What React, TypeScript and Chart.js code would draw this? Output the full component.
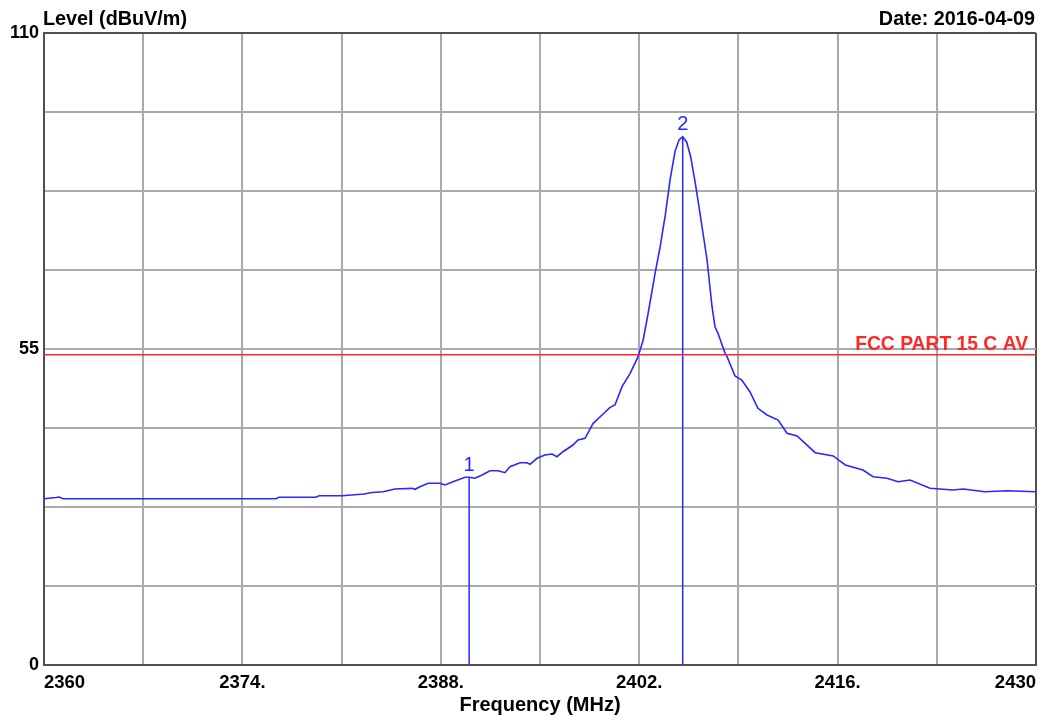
import React, { useEffect, useRef } from "react";
import { Chart, registerables } from "chart.js";

Chart.register(...registerables);

// Trace (frequency MHz, level dBuV/m)
const freqs = [
  2360.0, 2360.85, 2361.06, 2361.34, 2376.37, 2376.58, 2379.19, 2379.41, 2381.03, 2382.58,
  2383.15, 2383.92, 2384.77, 2385.97, 2386.18, 2386.53, 2387.1, 2387.94, 2388.3, 2388.86,
  2389.71, 2389.99, 2390.41, 2390.91, 2391.47, 2392.04, 2392.53, 2392.88, 2393.59, 2394.08,
  2394.3, 2394.79, 2395.35, 2395.85, 2396.2, 2396.62, 2397.33, 2397.68, 2398.18, 2398.75,
  2399.38, 2399.94, 2400.29, 2400.79, 2401.36, 2401.92, 2402.28, 2402.63, 2403.12, 2403.48,
  2403.84, 2404.19, 2404.53, 2404.81, 2405.07, 2405.35, 2405.62, 2405.95, 2406.29, 2406.79,
  2407.14, 2407.35, 2407.56, 2408.06, 2408.2, 2408.76, 2409.24, 2409.81, 2410.38, 2411.02,
  2411.8, 2412.43, 2413.14, 2414.42, 2415.69, 2416.54, 2417.79, 2418.5, 2419.49, 2420.26,
  2421.11, 2422.52, 2424.14, 2424.85, 2426.4, 2427.96, 2430.0,
];
const levels = [
  28.94, 29.15, 29.24, 28.94, 28.94, 29.19, 29.19, 29.47, 29.47, 29.76,
  30.02, 30.16, 30.63, 30.75, 30.58, 31.03, 31.63, 31.63, 31.33, 31.9,
  32.67, 32.67, 32.5, 33.07, 33.82, 33.82, 33.47, 34.51, 35.21, 35.21,
  34.93, 35.98, 36.55, 36.72, 36.25, 37.12, 38.29, 39.16, 39.46, 42.07,
  43.51, 44.85, 45.25, 48.44, 50.77, 53.66, 56.57, 61.21, 68.17, 72.81,
  78.3, 84.6, 89.4, 91.4, 91.95, 91.0, 88.6, 84.0, 78.62, 70.49,
  62.36, 58.88, 57.73, 54.25, 53.66, 50.3, 49.6, 47.57, 44.68, 43.51,
  42.64, 40.33, 39.86, 36.95, 36.38, 34.81, 33.94, 32.77, 32.5, 31.9,
  32.2, 30.75, 30.46, 30.63, 30.16, 30.34, 30.16,
];

const markerLabels = ["1", "2"];
const markerFreqs = [2390.0, 2405.07];
const markerLevels = [32.67, 91.95];

const limitLevel = 54;
const limitLabel = "FCC PART 15 C AV";

const xMin = 2360;
const xMax = 2430;
const xStep = 7;
const xLabelStep = 14;
const yMin = 0;
const yMax = 110;
const yStep = 13.75;
const yLabelValues = [0, 55, 110];

const yTitle = "Level (dBuV/m)";
const xTitle = "Frequency (MHz)";
const dateText = "Date: 2016-04-09";

const FONT = "'Liberation Sans', Arial, sans-serif";
const BLUE = "rgb(40,40,255)";
const RED = "rgb(255,40,40)";
const GRID = "#aaaaaa";
const BORDER = "#505050";

export default function App() {
  const ref = useRef<HTMLCanvasElement | null>(null);

  useEffect(() => {
    if (!ref.current) return;
    const textPlugin = {
      id: "texts",
      afterDraw(chart: any) {
        const ctx = chart.ctx;
        const xs = chart.scales.x;
        const ys = chart.scales.y;
        const area = chart.chartArea;
        ctx.save();
        ctx.font = `bold 19.8px ${FONT}`;
        ctx.fillStyle = "#000";
        ctx.textBaseline = "alphabetic";
        ctx.textAlign = "left";
        ctx.fillText(yTitle, area.left - 1, 25);
        ctx.textAlign = "right";
        ctx.fillText(dateText, area.right - 1, 25);
        ctx.font = `bold 19.3px ${FONT}`;
        ctx.fillStyle = RED;
        ctx.fillText(limitLabel, area.right - 8, ys.getPixelForValue(limitLevel) - 5);
        ctx.font = `20px ${FONT}`;
        ctx.fillStyle = BLUE;
        ctx.textAlign = "center";
        ctx.textBaseline = "bottom";
        markerLabels.forEach((lab, i) => {
          ctx.fillText(lab, xs.getPixelForValue(markerFreqs[i]), ys.getPixelForValue(markerLevels[i]) - 2);
        });
        ctx.restore();
      },
    };

    const markerSets = markerFreqs.map((f, i) => ({
      data: [
        { x: f, y: yMin },
        { x: f, y: markerLevels[i] },
      ],
      borderColor: BLUE,
      borderWidth: 1.5,
      pointRadius: 0,
    }));

    const chart = new Chart(ref.current, {
      type: "line",
      data: {
        datasets: [
          {
            data: [
              { x: xMin, y: limitLevel },
              { x: xMax, y: limitLevel },
            ],
            borderColor: RED,
            borderWidth: 1.5,
            pointRadius: 0,
          },
          {
            data: freqs.map((f, i) => ({ x: f, y: levels[i] })),
            borderColor: BLUE,
            borderWidth: 1.6,
            pointRadius: 0,
            tension: 0,
          },
          ...markerSets,
        ],
      },
      options: {
        responsive: false,
        animation: false,
        devicePixelRatio: 1,
        layout: { padding: { left: 0, top: 33, right: 18, bottom: 0 } },
        plugins: { legend: { display: false }, tooltip: { enabled: false }, title: { display: false } },
        scales: {
          x: {
            type: "linear",
            min: xMin,
            max: xMax,
            afterBuildTicks: (scale: any) => {
              const t = [];
              for (let v = xMin; v <= xMax + 1e-9; v += xStep) t.push({ value: v });
              scale.ticks = t;
            },
            afterFit: (scale: any) => {
              scale.height = 55;
            },
            grid: {
              drawTicks: false,
              color: (c: any) => (c.tick && c.tick.value === xMax ? BORDER : GRID),
              lineWidth: 2,
            },
            border: { display: true, color: BORDER, width: 2 },
            ticks: {
              autoSkip: false,
              maxRotation: 0,
              align: "inner",
              padding: 7,
              color: "#000",
              font: { family: FONT, size: 18.5, weight: "bold" },
              callback: (v: any) => {
                const n = Number(v);
                if (Math.abs((n - xMin) % xLabelStep) > 1e-6) return "";
                return n === xMin || n === xMax ? String(n) : n + ".";
              },
            },
            title: {
              display: true,
              text: xTitle,
              color: "#000",
              font: { family: FONT, size: 20, weight: "bold" },
              padding: { top: 0, bottom: 3 },
            },
          },
          y: {
            type: "linear",
            min: yMin,
            max: yMax,
            afterBuildTicks: (scale: any) => {
              const t = [];
              for (let v = yMin; v <= yMax + 1e-9; v += yStep) t.push({ value: v });
              scale.ticks = t;
            },
            afterFit: (scale: any) => {
              scale.width = 44;
            },
            grid: {
              drawTicks: false,
              color: (c: any) => (c.tick && c.tick.value === yMax ? BORDER : GRID),
              lineWidth: 2,
            },
            border: { display: true, color: BORDER, width: 2 },
            ticks: {
              autoSkip: false,
              padding: 5,
              color: "#000",
              font: { family: FONT, size: 18, weight: "bold" },
              callback: (v: any) => {
                const n = Number(v);
                return yLabelValues.some((y) => Math.abs(y - n) < 1e-6) ? String(n) : "";
              },
            },
          },
        },
      },
      plugins: [textPlugin],
    } as any);
    return () => chart.destroy();
  }, []);

  return (
    <div style={{ position: "absolute", left: 0, top: 0, width: 1054, height: 720, background: "#fff" }}>
      <canvas ref={ref} width={1054} height={720} />
    </div>
  );
}
